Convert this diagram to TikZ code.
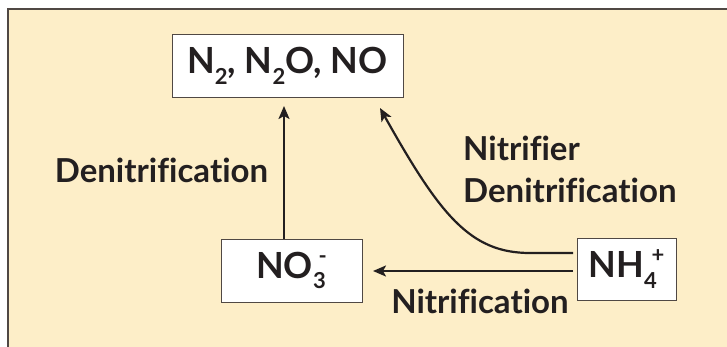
\documentclass[tikz,border=0pt]{standalone}
\usepackage{fontspec}
\setmainfont{Lato}[Ligatures=NoCommon]
\usetikzlibrary{arrows.meta}
\definecolor{bgyellow}{RGB}{253,238,200}
\definecolor{ink}{RGB}{35,31,32}
\definecolor{frame}{RGB}{80,72,68}
\newcommand{\chsub}[1]{\raisebox{-0.3em}{\fontsize{22}{24}\selectfont #1}}
\newcommand{\chsup}[1]{\raisebox{0.42em}{\fontsize{22}{24}\selectfont #1}}
\begin{document}
\begin{tikzpicture}[x=1pt,y=-1pt,
  chem/.style={draw=frame,line width=1pt,fill=white,inner sep=0pt,text=ink,font=\bfseries\fontsize{36}{40}\selectfont},
  lbl/.style={text=ink,inner sep=0pt,font=\bfseries\fontsize{33}{38}\selectfont},
  conn/.style={draw=ink,line width=2.2pt,-{Stealth[length=13pt,width=11pt,inset=3pt]}}]
\useasboundingbox (0,0) rectangle (727,346);
\begin{scope}
\clip (0,0) rectangle (727,346);
\draw[fill=bgyellow,draw=frame,line width=1.6pt] (8,9) rectangle (760,380);
\end{scope}
\node[chem,minimum width=231pt,minimum height=63pt] (gas) at (287.5,65.5) {N\chsub{2}, N\chsub{2}O, NO};
\node[chem,minimum width=141pt,minimum height=63pt] (no3) at (291.5,270.5) {NO\chsub{3}\kern-0.2em\chsup{-}};
\node[chem,minimum width=99pt,minimum height=62pt] (nh4) at (626.5,269) {NH\chsub{4}\kern-0.15em\chsup{+}};
\coordinate (gasb) at (284,106);
\coordinate (gasr) at (380,108);
\coordinate (no3r) at (373,271);
\coordinate (nh4a) at (573,271);
\coordinate (nh4b) at (573,253);
\coordinate (bend) at (530,253);
\draw[conn] (no3.north -| gasb) -- (gasb);
\draw[conn] (nh4a) -- (no3r);
\draw[conn] (nh4b) -- (bend) .. controls (470,253) and (440,215) .. (gasr);
\node[lbl,anchor=base] (den) at (161.5,182) {Denitrification};
\node[lbl,anchor=base west] (nit1) at (463,160) {Nitrifier};
\node[lbl,anchor=base west] (nit2) at (463,202) {Denitrification};
\node[lbl,anchor=base] (nitr) at (480,313) {Nitrification};
\end{tikzpicture}
\end{document}
